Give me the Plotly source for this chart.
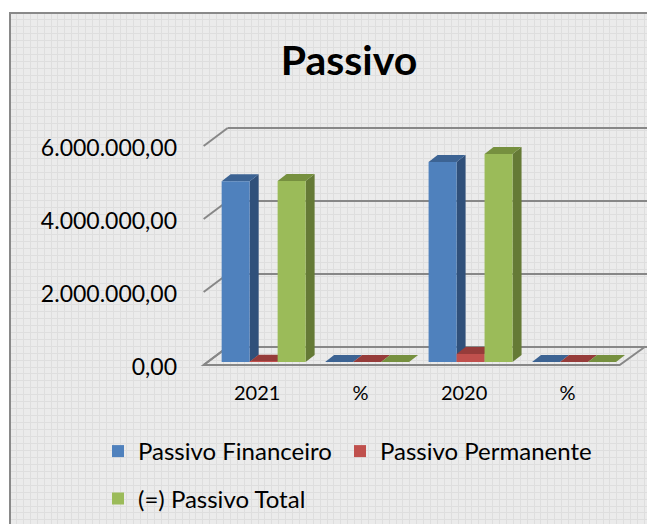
import base64
import plotly.graph_objects as go

# ---------------- data ----------------
categories = ["2021", "%", "2020", "%"]
series_names = ["Passivo Financeiro", "Passivo Permanente", "(=) Passivo Total"]
passivo_financeiro = [4950000, 99.8, 5480000, 96.1]
passivo_permanente = [10000, 0.2, 220000, 3.9]
passivo_total = [4960000, 100.0, 5700000, 100.0]
y_tick_values = [0, 2000000, 4000000, 6000000]
y_tick_labels = ["0,00", "2.000.000,00", "4.000.000,00", "6.000.000,00"]

# ---------------- style / geometry ----------------
W, H = 647, 524
FONT = "Lato"
front_colors = ["#4F81BD", "#C0504D", "#9BBB59"]
top_colors = ["#3C6393", "#963C3A", "#76903F"]
side_colors = ["#30507A", "#7E3230", "#657A36"]
line_col = "#878787"

plot_l, plot_r, plot_t, plot_b = 199, 647, 121, 368
zero_px = 362.0                     # pixel row of value 0 on the bar plane
ppm = 36.5 / 1e6                    # pixels per unit of value
xr = [-0.62, 3.71]
ppx = (plot_r - plot_l) / (xr[1] - xr[0])   # pixels per category
yr = [-(plot_b - zero_px) / ppm, (zero_px - plot_t) / ppm]
pw = plot_r - plot_l
ph = plot_b - plot_t

bar_w = 0.2705
offsets = [-0.401, -0.1305, 0.14]
ddx = 9 / ppx
ddy = 7 / ppm

# legend placement (left px, centre row px) per series
legend_ids = ["legend", "legend3", "legend2"]
legend_pos = [(98, 451.5), (340, 451.5), (98, 499)]

x = list(range(len(categories)))
series = [passivo_financeiro, passivo_permanente, passivo_total]

fig = go.Figure()
for name, vals, col, off, lg in zip(series_names, series, front_colors, offsets, legend_ids):
    fig.add_trace(go.Bar(
        x=x, y=vals, name=name, width=bar_w, offset=off,
        marker=dict(color=col, line=dict(width=0)),
        legend=lg,
    ))

# chart-area background: pattern fill (small grid) with border, as an svg image
svg_parts = [f'<svg xmlns="http://www.w3.org/2000/svg" width="{W}" height="{H}" viewBox="0 0 {W} {H}" shape-rendering="crispEdges">',
             f'<rect x="0" y="0" width="{W}" height="{H}" fill="white"/>',
             f'<rect x="10" y="13" width="{W + 20}" height="{H + 20}" fill="#EBEBEB"/>']
gx = 16.5
while gx < W:
    svg_parts.append(f'<line x1="{gx}" y1="14" x2="{gx}" y2="{H}" stroke="#DEDEDE" stroke-width="1"/>')
    gx += 6.9
gy = 19.5
while gy < H:
    svg_parts.append(f'<line x1="11" y1="{gy}" x2="{W}" y2="{gy}" stroke="#DEDEDE" stroke-width="1"/>')
    gy += 6.95
svg_parts.append(f'<rect x="10" y="13" width="{W + 20}" height="{H + 20}" fill="none" stroke="#898989" stroke-width="2"/>')
svg_parts.append('</svg>')
svg_uri = "data:image/svg+xml;base64," + base64.b64encode("".join(svg_parts).encode()).decode()

shapes = []
# walls / gridlines (front edge at -3px, back wall at +15px)
x_wall_front = (204 - 263.5) / ppx
x_wall_back = (228 - 263.5) / ppx
y_front = -3 / ppm
y_back = 15 / ppm
x_end = xr[1]
for v in y_tick_values:
    shapes.append(dict(type="line", xref="x", yref="y",
                       x0=x_wall_front, y0=v + y_front, x1=x_wall_back, y1=v + y_back,
                       line=dict(color=line_col, width=2), layer="below"))
    shapes.append(dict(type="line", xref="x", yref="y",
                       x0=x_wall_back, y0=v + y_back, x1=x_end, y1=v + y_back,
                       line=dict(color=line_col, width=2), layer="below"))
# floor
fx_r = (620 - 263.5) / ppx
bx_r = (645 - 263.5) / ppx
shapes.append(dict(type="path", xref="x", yref="y",
                   path=f"M {x_wall_front},{y_front} L {fx_r},{y_front} L {bx_r},{y_back} L {x_wall_back},{y_back} Z",
                   line=dict(color=line_col, width=2), layer="below"))

# 3D faces of each bar, from the data values
for vals, tc, sc, off in zip(series, top_colors, side_colors, offsets):
    for xi, v in zip(x, vals):
        xl = xi + off
        xrr = xl + bar_w
        side = f"M {xrr},{0} L {xrr + ddx},{ddy} L {xrr + ddx},{v + ddy} L {xrr},{v} Z"
        top = f"M {xl},{v} L {xrr},{v} L {xrr + ddx},{v + ddy} L {xl + ddx},{v + ddy} Z"
        shapes.append(dict(type="path", xref="x", yref="y", path=side,
                           fillcolor=sc, line=dict(width=0), layer="below"))
        shapes.append(dict(type="path", xref="x", yref="y", path=top,
                           fillcolor=tc, line=dict(width=0), layer="below"))

legend_layouts = {}
for lg, (lx, ly) in zip(legend_ids, legend_pos):
    legend_layouts[lg] = dict(orientation="h", x=(lx - plot_l) / pw, xanchor="left",
                              y=(plot_b - ly) / ph, yanchor="middle",
                              font=dict(family=FONT, size=24, color="black"),
                              bgcolor="rgba(0,0,0,0)")

fig.update_layout(
    width=W, height=H,
    margin=dict(l=plot_l, r=W - plot_r, t=plot_t, b=H - plot_b, pad=0),
    paper_bgcolor="white", plot_bgcolor="rgba(0,0,0,0)",
    barmode="overlay",
    font=dict(family=FONT, color="black"),
    title=dict(text="<b>Passivo</b>", font=dict(family=FONT, size=41, color="black"),
               xref="container", x=349 / W, xanchor="center",
               yref="container", y=1 - 61 / H, yanchor="middle"),
    xaxis=dict(range=xr, tickvals=x, ticktext=categories, showgrid=False,
               zeroline=False, showline=False, ticks="",
               tickfont=dict(family=FONT, size=20, color="black"),
               ticklabelshift=-6, ticklabelstandoff=11),
    yaxis=dict(range=yr, tickvals=y_tick_values, ticktext=y_tick_labels,
               showgrid=False, zeroline=False, showline=False, ticks="",
               tickfont=dict(family=FONT, size=23, color="black"),
               ticklabelstandoff=21, ticklabelshift=5),
    images=[dict(source=svg_uri, xref="paper", yref="paper",
                 x=-plot_l / pw, y=plot_b / ph, sizex=W / pw, sizey=H / ph,
                 xanchor="left", yanchor="top", sizing="stretch", layer="below")],
    shapes=shapes,
    showlegend=True,
    **legend_layouts,
)
fig.write_html("out.html", config={"displayModeBar": False},
               post_script="document.body.style.margin='0';")
